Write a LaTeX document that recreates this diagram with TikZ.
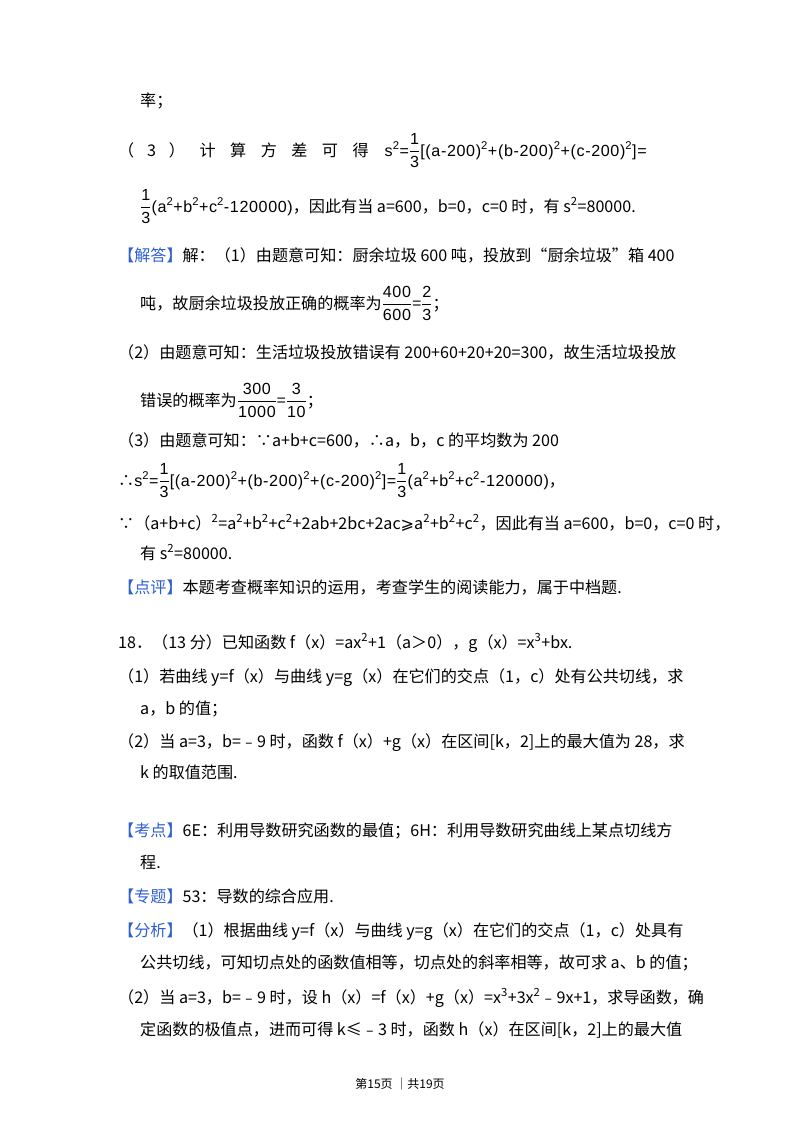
\documentclass[tikz,border=0pt]{standalone}
\usepackage{fontspec}
\setmainfont{Noto Sans CJK SC}
\newfontfamily\fm[LetterSpace=4]{Liberation Sans}
\newfontfamily\djvfont{DejaVu Sans}
\definecolor{lab}{HTML}{2F5FD0}
\newcommand{\tg}[1]{\textcolor{lab}{【#1】}}
\newcommand{\sq}{\textsuperscript{2}}
\newcommand{\fr}[2]{$\displaystyle\frac{\textrm{\fm #1}}{\textrm{\fm #2}}$}
\begin{document}
\begin{tikzpicture}[x=1pt,y=-1pt,every node/.style={anchor=base west,inner sep=0pt,font=\fontsize{16.1}{18}\selectfont}]
\useasboundingbox[fill=white] (0,0) rectangle (800,1132);
\node (l1) at (140,106) {率；};
\node (l2) at (118,156) {（\hspace{0.8em}3\hspace{0.8em}）\hspace{0.9em}计\hspace{0.9em}算\hspace{0.9em}方\hspace{0.9em}差\hspace{0.9em}可\hspace{0.9em}得\hspace{1em}{\fm s\sq=}\fr{1}{3}{\fm[(a-200)\sq+(b-200)\sq+(c-200)\sq]=}};
\node (l3) at (140,212) {\fr{1}{3}{\fm(a\sq+b\sq+c\sq-120000)}，因此有当 a=600，b=0，c=0 时，有 s\sq=80000.};
\node (l4) at (118,261) {\tg{解答}解：（1）由题意可知：厨余垃圾 600 吨，投放到“厨余垃圾”箱 400};
\node (l5) at (140,309) {吨，故厨余垃圾投放正确的概率为\fr{400}{600}=\fr{2}{3}；};
\node (l6) at (118,358) {（2）由题意可知：生活垃圾投放错误有 200+60+20+20=300，故生活垃圾投放};
\node (l7) at (140,406) {错误的概率为\fr{300}{1000}=\fr{3}{10}；};
\node (l8) at (118,446) {（3）由题意可知：∵a+b+c=600，∴a，b，c 的平均数为 200};
\node (l9) at (118,486) {∴{\fm s\sq=}\fr{1}{3}{\fm[(a-200)\sq+(b-200)\sq+(c-200)\sq]=}\fr{1}{3}{\fm(a\sq+b\sq+c\sq-120000)}，};
\node (l10) at (118,529) {∵（a+b+c）\sq=a\sq+b\sq+c\sq+2ab+2bc+2ac{\djvfont⩾}a\sq+b\sq+c\sq，因此有当 a=600，b=0，c=0 时，};
\node (l11) at (140,559) {有 s\sq=80000.};
\node (l12) at (118,593) {\tg{点评}本题考查概率知识的运用，考查学生的阅读能力，属于中档题.};
\node (l13) at (118,648) {18．（13 分）已知函数 f（x）=ax\sq+1（a＞0），g（x）=x\textsuperscript{3}+bx.};
\node (l14) at (118,682) {（1）若曲线 y=f（x）与曲线 y=g（x）在它们的交点（1，c）处有公共切线，求};
\node (l15) at (140,714) {a，b 的值；};
\node (l16) at (118,747) {（2）当 a=3，b=﹣9 时，函数 f（x）+g（x）在区间[k，2]上的最大值为 28，求};
\node (l17) at (140,778) {k 的取值范围.};
\node (l18) at (118,836) {\tg{考点}6E：利用导数研究函数的最值；6H：利用导数研究曲线上某点切线方};
\node (l19) at (140,868) {程.};
\node (l20) at (118,902) {\tg{专题}53：导数的综合应用.};
\node (l21) at (118,936) {\tg{分析}（1）根据曲线 y=f（x）与曲线 y=g（x）在它们的交点（1，c）处具有};
\node (l22) at (140,968) {公共切线，可知切点处的函数值相等，切点处的斜率相等，故可求 a、b 的值；};
\node (l23) at (118,1003) {（2）当 a=3，b=﹣9 时，设 h（x）=f（x）+g（x）=x\textsuperscript{3}+3x\sq﹣9x+1，求导函数，确};
\node (l24) at (140,1035) {定函数的极值点，进而可得 k≤﹣3 时，函数 h（x）在区间[k，2]上的最大值};
\node[anchor=base,font=\fontsize{12}{14}\selectfont] (ft) at (400,1088) {第15页 ｜共19页};
\end{tikzpicture}
\end{document}
